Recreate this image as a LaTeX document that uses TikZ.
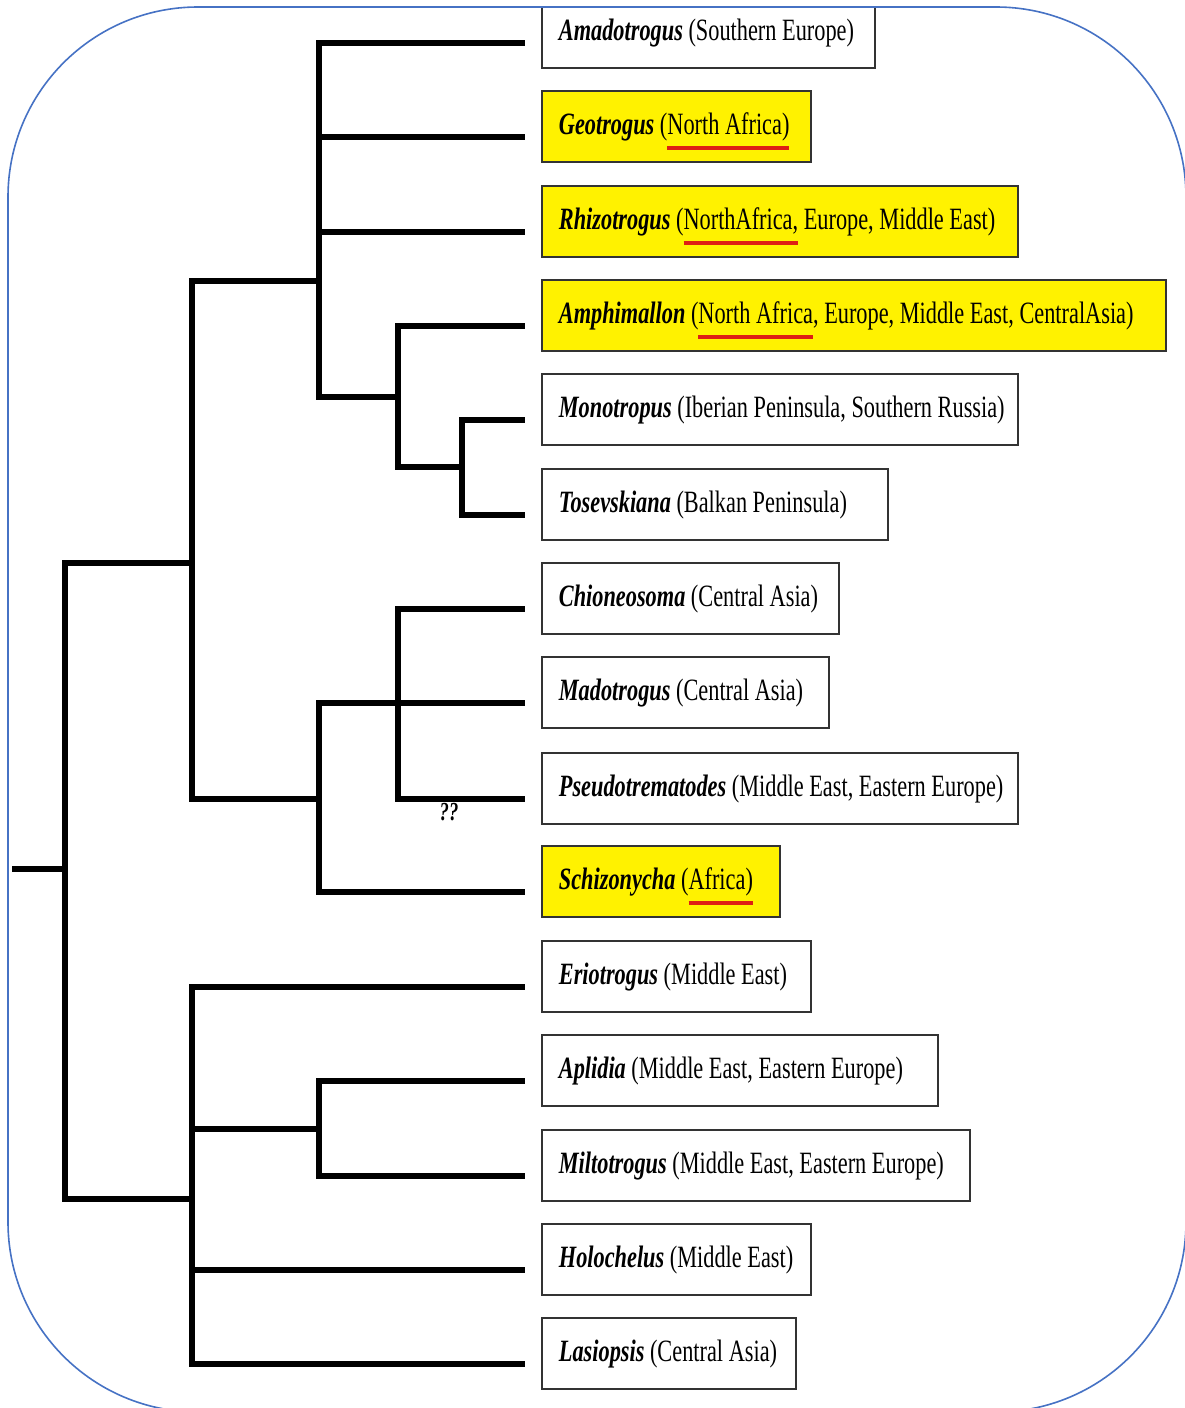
\documentclass[tikz,border=0pt]{standalone}
\usepackage{fontspec}
\setmainfont{Liberation Serif}[FakeStretch=0.72]

\definecolor{hiyellow}{RGB}{255,242,0}
\definecolor{ulred}{RGB}{222,30,20}
\definecolor{framecol}{RGB}{70,114,196}

\newcommand{\genus}[1]{\textbf{\textit{#1}}}
% box text of fixed width: width, genus, region
\newcommand{\taxa}[3]{\makebox[#1][l]{\genus{#2} #3}}
\newcommand{\redul}[1]{\setbox0=\hbox{#1}\rlap{\color{ulred}\rule[-15.5pt]{\wd0}{3.5pt}}\box0\relax}

\begin{document}
\begin{tikzpicture}[x=1pt,y=-1pt,
		branch/.style={
			line width=5.5pt,black,
		},
		taxon/.style={
			draw=black!80,line width=1.8pt,fill=white,anchor=west,minimum height=71pt,
			inner xsep=17pt,text height=22pt,text depth=7pt,
			font=\fontsize{31}{36}\selectfont,
		},
		hilite/.style={
			taxon,fill=hiyellow,
		},
	]

	\useasboundingbox (0,0) rectangle (1184,1408);

	\begin{scope}
		\clip[rounded corners=190pt] (8,7) rectangle (1186,1412);

		% tips of the 15 leaf branches
		\foreach \i/\y in {1/43,2/137,3/232,4/326,5/420,6/515,7/609,8/703,9/799,10/892,11/987,12/1081,13/1176,14/1270,15/1364}
		\coordinate (t\i) at (525,\y);

		% inner nodes of the tree
		\coordinate (r0) at (12,869);
		\coordinate (root) at (65,869);
		\coordinate (nA) at (192,563);
		\coordinate (nA1) at (319,281);
		\coordinate (nA1b) at (398,397);
		\coordinate (nA1c) at (462,467);
		\coordinate (nA2) at (319,799);
		\coordinate (nA2b) at (398,703);
		\coordinate (nB) at (192,1199);
		\coordinate (nB1) at (319,1129);

		% taxa
		\node[taxon] (amado) at ([xshift=16pt,yshift=10.5pt]t1) {\taxa{299pt}{Amadotrogus}{(Southern Europe)}};
		\node[hilite] (geo) at ([xshift=16pt,yshift=10.5pt]t2) {\taxa{235pt}{Geotrogus}{(\redul{North Africa)}}};
		\node[hilite] (rhizo) at ([xshift=16pt,yshift=10.5pt]t3) {\taxa{442pt}{Rhizotrogus}{(\redul{NorthAfrica,} Europe, Middle East)}};
		\node[hilite] (amphi) at ([xshift=16pt,yshift=10.5pt]t4) {\taxa{590pt}{Amphimallon}{(\redul{North Africa}, Europe, Middle East, CentralAsia)}};
		\node[taxon] (mono) at ([xshift=16pt,yshift=10.5pt]t5) {\taxa{442pt}{Monotropus}{(Iberian Peninsula, Southern Russia)}};
		\node[taxon] (tosev) at ([xshift=16pt,yshift=10.5pt]t6) {\taxa{312pt}{Tosevskiana}{(Balkan Peninsula)}};
		\node[taxon] (chion) at ([xshift=16pt,yshift=10.5pt]t7) {\taxa{263pt}{Chioneosoma}{(Central Asia)}};
		\node[taxon] (mado) at ([xshift=16pt,yshift=10.5pt]t8) {\taxa{253pt}{Madotrogus}{(Central Asia)}};
		\node[taxon] (pseudo) at ([xshift=16pt,yshift=10.5pt]t9) {\taxa{442pt}{Pseudotrematodes}{(Middle East, Eastern Europe)}};
		\node[hilite] (schizo) at ([xshift=16pt,yshift=10.5pt]t10) {\taxa{204pt}{Schizonycha}{(\redul{Africa)}}};
		\node[taxon] (erio) at ([xshift=16pt,yshift=10.5pt]t11) {\taxa{235pt}{Eriotrogus}{(Middle East)}};
		\node[taxon] (aplid) at ([xshift=16pt,yshift=10.5pt]t12) {\taxa{362pt}{Aplidia}{(Middle East, Eastern Europe)}};
		\node[taxon] (milto) at ([xshift=16pt,yshift=10.5pt]t13) {\taxa{394pt}{Miltotrogus}{(Middle East, Eastern Europe)}};
		\node[taxon] (holo) at ([xshift=16pt,yshift=10.5pt]t14) {\taxa{235pt}{Holochelus}{(Middle East)}};
		\node[taxon] (lasio) at ([xshift=16pt,yshift=10.5pt]t15) {\taxa{220pt}{Lasiopsis}{(Central Asia)}};

		\node[font=\fontsize{26}{26}\selectfont\bfseries\itshape,inner sep=0pt] (query) at (449,812) {??};

		% branches
		\draw[branch] (r0) -- (root);
		\draw[branch] (root) |- (nA);
		\draw[branch] (root) |- (nB);

		\draw[branch] (nA) |- (nA1);
		\draw[branch] (nA) |- (nA2);
		\draw[branch] (nA1) |- (t1);
		\draw[branch] (nA1) |- (t2);
		\draw[branch] (nA1) |- (t3);
		\draw[branch] (nA1) |- (nA1b);
		\draw[branch] (nA1b) |- (t4);
		\draw[branch] (nA1b) |- (nA1c);
		\draw[branch] (nA1c) |- (t5);
		\draw[branch] (nA1c) |- (t6);

		\draw[branch] (nA2) |- (t8);
		\draw[branch] (nA2) |- (t10);
		\draw[branch] (nA2b) |- (t7);
		\draw[branch] (nA2b) |- (t9);

		\draw[branch] (nB) |- (t11);
		\draw[branch] (nB) |- (nB1);
		\draw[branch] (nB) |- (t14);
		\draw[branch] (nB) |- (t15);
		\draw[branch] (nB1) |- (t12);
		\draw[branch] (nB1) |- (t13);
	\end{scope}

	% rounded frame
	\draw[framecol,line width=1.6pt,rounded corners=190pt] (8,7) rectangle (1186,1412);

\end{tikzpicture}
\end{document}
